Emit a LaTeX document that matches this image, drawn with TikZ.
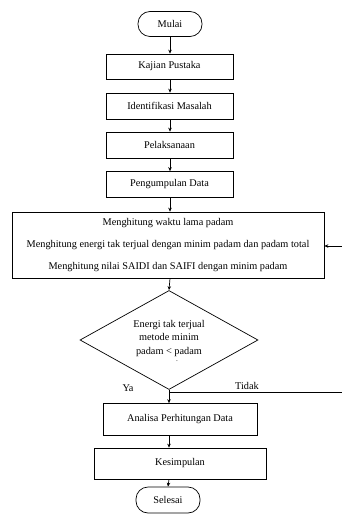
\documentclass[tikz,border=0pt]{standalone}
\usepackage{fontspec}
\setmainfont{Liberation Serif}
\usetikzlibrary{arrows.meta,shapes.geometric}
\begin{document}
\begin{tikzpicture}[x=1pt,y=-1pt,
  line width=0.7pt,
  every node/.style={font=\fontsize{10.3}{13.5}\selectfont},
  procbox/.style={draw,rectangle,inner sep=0pt,align=center},
  termbox/.style={draw,rectangle,rounded corners=12pt,inner sep=0pt,minimum width=64pt,minimum height=25pt},
  decbox/.style={draw,diamond,inner sep=0pt,aspect=1.8,minimum width=178pt,minimum height=99pt,align=center},
  arr/.style={-{Stealth[length=4pt,width=3.5pt]}},
  lbl/.style={inner sep=0pt}]
\useasboundingbox (0,0) rectangle (342,516);
\node[termbox] (mulai) at (170,24) {Mulai};
\node[procbox,minimum width=127pt,minimum height=25pt] (kajian) at (169.5,66.5) {Kajian Pustaka};
\node[procbox,minimum width=127pt,minimum height=26pt] (ident) at (169.5,106) {Identifikasi Masalah};
\node[procbox,minimum width=127pt,minimum height=26pt] (pelak) at (169.5,145) {Pelaksanaan};
\node[procbox,minimum width=127pt,minimum height=26pt] (pengum) at (169.5,184.5) {Pengumpulan Data};
\node[procbox,minimum width=312pt,minimum height=66pt,font=\fontsize{10.3}{22}\selectfont] (hitung) at (168,245)
  {Menghitung waktu lama padam\\Menghitung energi tak terjual dengan minim padam dan padam total\\Menghitung nilai SAIDI dan SAIFI dengan minim padam};
\node[decbox] (dec) at (169,340) {};
\node[lbl,align=center] (dectext) at (169,338.5) {Energi tak terjual\\metode minim\\padam {<} padam};
\node[lbl,font=\fontsize{5}{5}\selectfont] (dash) at (177,362) {-};
\node[procbox,minimum width=154pt,minimum height=32pt] (analisa) at (180,419.5) {Analisa Perhitungan Data};
\node[procbox,minimum width=172pt,minimum height=31pt] (kesim) at (180,463.5) {Kesimpulan};
\node[termbox,minimum height=26pt] (selesai) at (168,500) {Selesai};
\node[lbl] (ya) at (128,388) {Ya};
\node[lbl] (tidak) at (247,386) {Tidak};
\coordinate (split) at (dec.south |- 0,392);
\coordinate (rc1) at (343,392);
\coordinate (rc2) at (343,246);
\draw[arr] (mulai.south) -- (mulai.south |- kajian.north);
\draw[arr] (mulai.south |- kajian.south) -- (mulai.south |- ident.north);
\draw[arr] (mulai.south |- ident.south) -- (mulai.south |- pelak.north);
\draw[arr] (mulai.south |- pelak.south) -- (mulai.south |- pengum.north);
\draw[arr] (mulai.south |- pengum.south) -- (mulai.south |- hitung.north);
\draw[arr] (mulai.south |- hitung.south) -- (dec.north);
\draw[arr] (dec.south) -- (dec.south |- analisa.north);
\draw[arr] (dec.south |- analisa.south) -- (dec.south |- kesim.north);
\draw[arr] (dec.south |- kesim.south) -- (selesai.north);
\draw (split) -- (rc1) -- (rc2);
\draw[arr] (rc2) -- (hitung.east |- rc2);
\end{tikzpicture}
\end{document}
